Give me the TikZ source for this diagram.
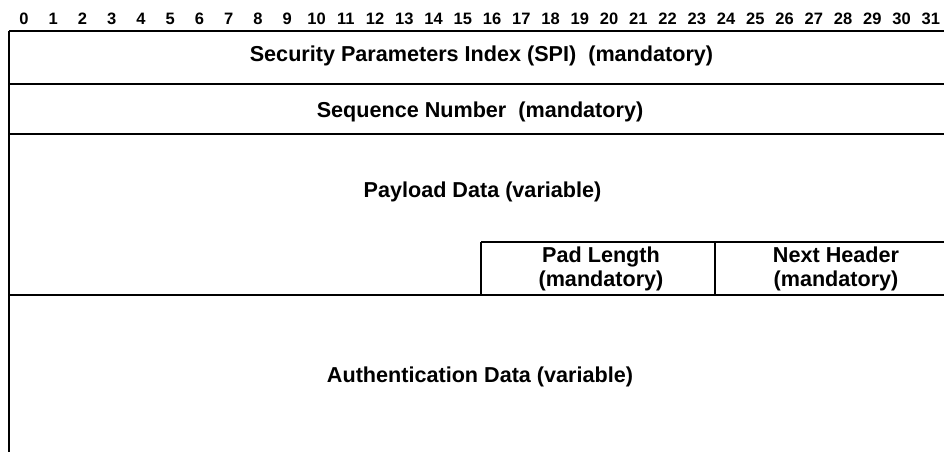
\documentclass[tikz,border=0pt]{standalone}
\usepackage{fontspec}
\setmainfont{Liberation Sans}

\begin{document}
\begin{tikzpicture}
  [x=1pt,y=-1pt,every node/.style={font=\bfseries\fontsize{21.6}{26}\selectfont,inner sep=0pt,anchor=base},
   bitnum/.style={font=\bfseries\fontsize{16.5}{18}\selectfont},
   heavy/.style={line width=2.8pt},
   light/.style={line width=1.5pt}]
  \useasboundingbox (0,0) rectangle (944,452);
  % bit numbers
  \foreach \i in {0,...,31}
    \node[bitnum] (b\i) at (24+29.25*\i,25) {\i};
  % frame
  \coordinate (tl) at (9,31);
  \coordinate (bl) at (9,452);
  \draw[light] (tl) -- (bl);
  \draw[heavy] (tl) -- (944,31);
  \draw[heavy] (9,84) -- (944,84);
  \draw[light] (9,134) -- (944,134);
  \draw[light] (481,242) -- (944,242);
  \draw[light] (481,242) -- (481,295);
  \draw[light] (715,242) -- (715,295);
  \draw[heavy] (9,295) -- (944,295);
  % fields
  \node (spi) at (481.5,61) {Security Parameters Index (SPI)\ \ (mandatory)};
  \node (seq) at (480,117) {Sequence Number\ \ (mandatory)};
  \node (pay) at (482.5,197) {Payload Data (variable)};
  \node (pad) at (601,262) {Pad Length};
  \node (padm) at (601,286) {(mandatory)};
  \node (nxt) at (836,262) {Next Header};
  \node (nxtm) at (836,286) {(mandatory)};
  \node (auth) at (480,382) {Authentication Data (variable)};
\end{tikzpicture}
\end{document}
